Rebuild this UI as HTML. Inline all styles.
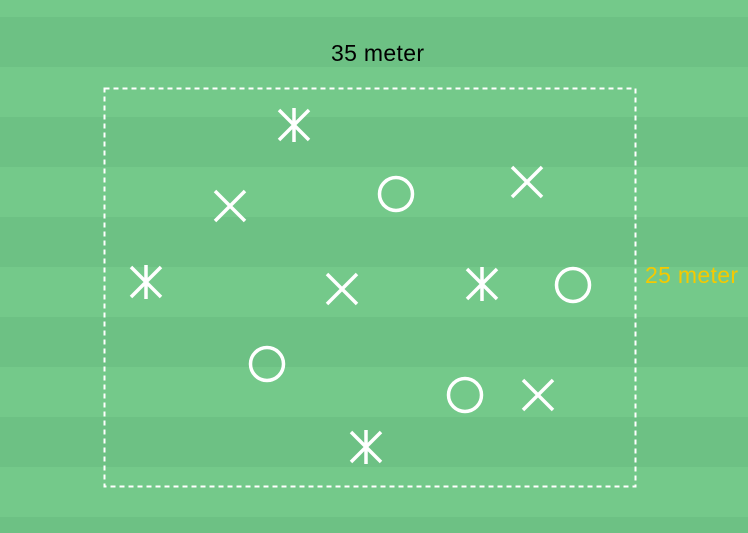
<!DOCTYPE html>
<html><head><style>
html,body{margin:0;padding:0;}
body{width:748px;height:533px;overflow:hidden;background:repeating-linear-gradient(to bottom,#74c98a 0px,#74c98a 17px,#6dc184 17px,#6dc184 67px,#74c98a 67px,#74c98a 100px);background-size:748px 100px;background-position:0 0;}
</style></head><body>
<svg width="748" height="533" style="position:absolute;left:0;top:0" xmlns="http://www.w3.org/2000/svg">
<rect x="104.5" y="88.5" width="531" height="398" fill="none" stroke="#fff" stroke-width="2" stroke-dasharray="5 4"/>
<text x="331" y="61" font-family="Liberation Sans, sans-serif" font-size="23" fill="#000" textLength="93">35 meter</text>
<text x="645" y="283" font-family="Liberation Sans, sans-serif" font-size="23" fill="#f5c900" textLength="93">25 meter</text>
<g stroke="#fff" stroke-width="3.5" fill="none">
<path d="M279 110l30 30M309 110l-30 30M294 108v34"/>
<path d="M131 267l30 30M161 267l-30 30M146 265v34"/>
<path d="M467 269l30 30M497 269l-30 30M482 267v34"/>
<path d="M351 432l30 30M381 432l-30 30M366 430v34"/>
<path d="M215 191l30 30M245 191l-30 30"/>
<path d="M512 167l30 30M542 167l-30 30"/>
<path d="M327 274l30 30M357 274l-30 30"/>
<path d="M523 380l30 30M553 380l-30 30"/>
<circle cx="396" cy="194" r="16.5"/>
<circle cx="573" cy="285" r="16.5"/>
<circle cx="267" cy="364" r="16.5"/>
<circle cx="465" cy="395" r="16.5"/>
</g>
</svg>
</body></html>
